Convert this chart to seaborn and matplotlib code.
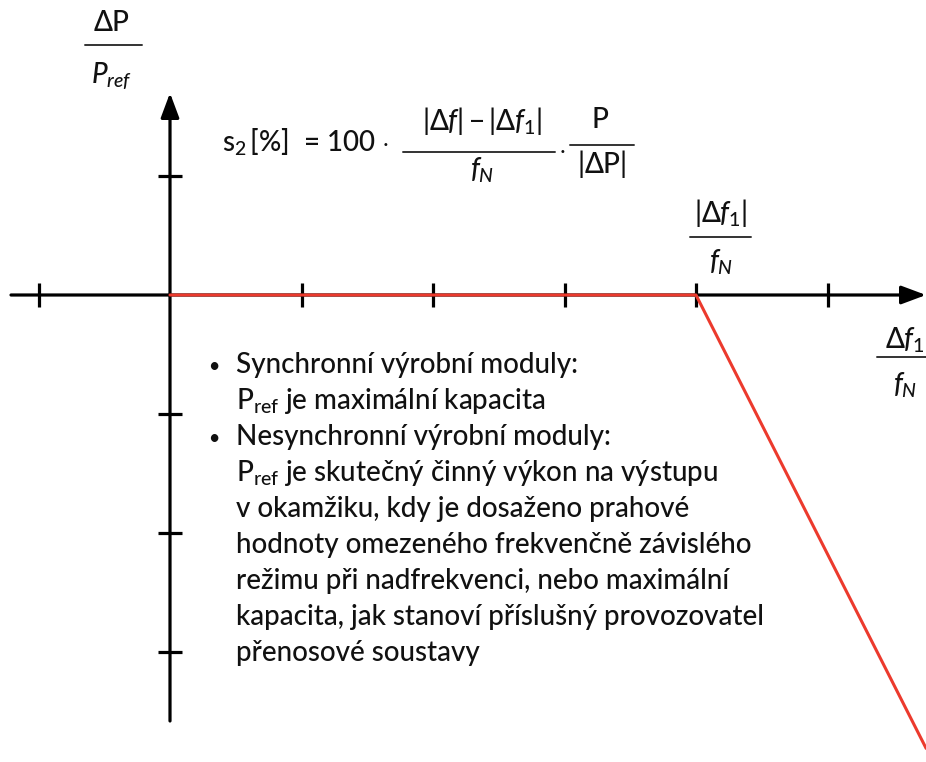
import matplotlib
matplotlib.use("Agg")
import matplotlib.pyplot as plt
from matplotlib.lines import Line2D
import seaborn as sns

# ---- data (diagram units: one tick = 1) ----
x_ticks = [-1, 1, 2, 3, 4, 5]
y_ticks = [1, -1, -2, -3]
curve_x = [0, 4, 5.75]
curve_y = [0, 0, -3.81]
bullet_lines = [
    ("•", "Synchronní výrobní moduly:"),
    ("", r"$\mathrm{P}_{\mathrm{ref}}$ je maximální kapacita"),
    ("•", "Nesynchronní výrobní moduly:"),
    ("", r"$\mathrm{P}_{\mathrm{ref}}$ je skutečný činný výkon na výstupu"),
    ("", "v okamžiku, kdy je dosaženo prahové"),
    ("", "hodnoty omezeného frekvenčně závislého"),
    ("", "režimu při nadfrekvenci, nebo maximální"),
    ("", "kapacita, jak stanoví příslušný provozovatel"),
    ("", "přenosové soustavy"),
]

sns.set_theme(style="white")
plt.rcParams["font.family"] = ["Lato", "DejaVu Sans"]
plt.rcParams["font.weight"] = "medium"
plt.rcParams["mathtext.fontset"] = "custom"
plt.rcParams["mathtext.rm"] = "Lato:medium"
plt.rcParams["mathtext.it"] = "Lato:italic:medium"
plt.rcParams["mathtext.bf"] = "Lato:bold"

W, H = 926, 762
fig = plt.figure(figsize=(W / 100, H / 100), dpi=100)
ax = fig.add_axes([0, 0, 1, 1])
X0, Y0, SX, SY = 170, 295, 131.5, 119
ax.set_xlim((0 - X0) / SX, (W - X0) / SX)
ax.set_ylim((Y0 - H) / SY, Y0 / SY)
ax.axis("off")

def dx(px):
    return (px - X0) / SX

def dy(py):
    return (Y0 - py) / SY

AX_LW = 2.3
arrow = dict(arrowstyle="-|>,head_length=0.75,head_width=0.28", lw=AX_LW,
             color="black", mutation_scale=20, shrinkA=0, shrinkB=0)
# x axis
ax.annotate("", xy=(dx(926), 0), xytext=(dx(11), 0), arrowprops=arrow, zorder=2)
# y axis
ax.annotate("", xy=(0, dy(93)), xytext=(0, dy(721)), arrowprops=arrow, zorder=2)

# ticks
ax.vlines(x_ticks, -12 / SY, 12 / SY, color="black", lw=AX_LW, zorder=2)
ax.hlines(y_ticks, -12 / SX, 12 / SX, color="black", lw=AX_LW, zorder=2)

# characteristic curve
sns.lineplot(x=curve_x, y=curve_y, sort=False, color="#ec3a2d", lw=2.2,
             ax=ax, zorder=3)

FS = 20
INK = "#111111"

def P(px, py):
    return (px / W, 1 - py / H)

def txt(px, py, s, size=FS, ha="center", va="center"):
    fig.text(*P(px, py), s, fontsize=size, ha=ha, va=va, color=INK)

def hline(x1, x2, py, lw=1.4):
    fig.add_artist(Line2D([x1 / W, x2 / W], [1 - py / H, 1 - py / H],
                          transform=fig.transFigure, color="#333333", lw=lw))

# y-axis label
txt(112, 23, r"$\Delta\mathrm{P}$")
hline(85, 142, 45)
txt(112, 76, r"$P_{ref}$")

# formula
txt(222, 142, r"$\mathrm{s}_{2}\,$[%]  = 100 $\cdot$", ha="left")
txt(482, 121, r"$|\Delta f| - |\Delta f_{1}|$")
hline(403, 555, 152)
txt(482, 170, r"$f_{N}$")
txt(562, 148, r"$\cdot$")
txt(600, 120, "P")
hline(570, 634, 145)
txt(602, 164, r"$|\Delta\mathrm{P}|$")

# tick label at x = 4
txt(721, 213, r"$|\Delta f_{1}|$")
hline(690, 751, 237)
txt(721, 262, r"$f_{N}$")

# x-axis label
txt(905, 340, r"$\Delta f_{1}$")
hline(877, 930, 357)
txt(905, 385, r"$f_{N}$")

# bullet text
y = 365
for bullet, line in bullet_lines:
    if bullet:
        txt(214, y + 1, bullet, size=14)
    txt(236, y, line, ha="left")
    y += 36

fig.savefig("out.png", dpi=100, facecolor="white")
